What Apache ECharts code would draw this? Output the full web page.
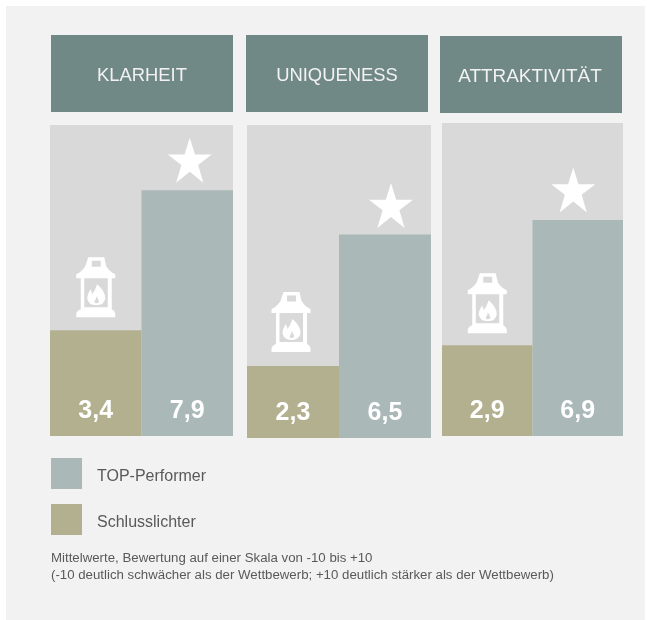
<!DOCTYPE html>
<html>
<head>
<meta charset="utf-8">
<style>html,body{margin:0;padding:0;background:#fff}#c{width:647px;height:620px}</style>
<script src="https://cdn.jsdelivr.net/npm/echarts@6/dist/echarts.min.js"></script>
</head>
<body>
<div id="c"></div>
<script>
const headers = ['KLARHEIT', 'UNIQUENESS', 'ATTRAKTIVITÄT'];
const categories = ['Schlusslichter', 'TOP-Performer'];
const lowValues = [3.4, 2.3, 2.9];
const topValues = [7.9, 6.5, 6.9];
const footnote = 'Mittelwerte, Bewertung auf einer Skala von -10 bis +10\n(-10 deutlich schwächer als der Wettbewerb; +10 deutlich stärker als der Wettbewerb)';

const gridBoxes = [
  {left: 50, top: 125, width: 183, height: 311},
  {left: 247, top: 125, width: 184, height: 313},
  {left: 442, top: 123, width: 181, height: 313}
];
const headerBoxes = [
  {x: 51, y: 35, width: 182, height: 77},
  {x: 246, y: 35, width: 182, height: 77},
  {x: 440, y: 36, width: 182, height: 77}
];
const headerFontSizes = [18.4, 18.4, 18.9];
const starOffsets = [[2.5, -30], [6, -29], [-4.5, -30]];
const lanternOffsets = [[0, -43], [-2, -44], [0, -42]];

const starPath = 'path://M22 0L27.2 16.8L44 16.8L30.4 27.2L35.6 45L22 34L8.4 45L13.6 27.2L0 16.8L16.8 16.8Z';
const lanternPath = 'path://M12 0L28 0L30 9Q33 14 39 17L39 21L35.5 21L35.5 52Q38 53 39 56L39 60L0 60L0 56Q1 53 4.5 52L4.5 21L0 21L0 17Q6 14 9 9Z'
  + 'M15.5 3.5L15.5 9.5L24.5 9.5L24.5 3.5Z'
  + 'M8 21L8 50L31.5 50L31.5 21Z'
  + 'M21 27Q29 34 29 41Q28 48 20 48Q12 48 11 41Q11 37 14.5 32L16 37Q19 33 21 27Z'
  + 'M20 39Q20 42 18.5 43.5Q17.5 46 20 46Q23 46 22.5 43.5Q22 42 20 39Z';

const grids = gridBoxes, xAxes = [], yAxes = [], series = [];
const colors = {low: '#b3b08f', top: '#aab9b8'};
headers.forEach((h, i) => {
  xAxes.push({type: 'category', gridIndex: i, data: categories, show: false, boundaryGap: true});
  yAxes.push({type: 'value', gridIndex: i, min: 0, max: 10, show: false});
  const label = {
    show: true, position: 'insideBottom', distance: 12,
    color: '#fff', fontFamily: 'Liberation Sans, Arial, sans-serif', fontWeight: 'bold', fontSize: 25,
    formatter: p => String(p.value).replace('.', ',')
  };
  series.push({
    name: 'Schlusslichter', type: 'bar', xAxisIndex: i, yAxisIndex: i,
    data: [lowValues[i], null], barWidth: '100%', barGap: '-100%',
    itemStyle: {color: colors.low}, label
  });
  series.push({
    name: 'TOP-Performer', type: 'bar', xAxisIndex: i, yAxisIndex: i,
    data: [null, topValues[i]], barWidth: '100%', barGap: '-100%',
    itemStyle: {color: colors.top}, label
  });
  series.push({
    type: 'scatter', xAxisIndex: i, yAxisIndex: i, silent: true, z: 5,
    data: [[1, topValues[i]]], symbol: starPath, symbolSize: [44, 45],
    symbolOffset: starOffsets[i], itemStyle: {color: '#fff', opacity: 1}
  });
  series.push({
    type: 'scatter', xAxisIndex: i, yAxisIndex: i, silent: true, z: 5,
    data: [[0, lowValues[i]]], symbol: lanternPath, symbolSize: [39, 60],
    symbolOffset: lanternOffsets[i], itemStyle: {color: '#fff', opacity: 1}
  });
});
grids.forEach(g => { g.show = true; g.backgroundColor = '#d9d9d9'; g.borderWidth = 0; g.containLabel = false; });

const graphics = [
  {type: 'rect', z: -10, shape: {x: 6, y: 6, width: 639, height: 614}, style: {fill: '#f2f2f2'}}
];
headers.forEach((h, i) => {
  const b = headerBoxes[i];
  graphics.push({type: 'rect', z: 1, shape: b, style: {fill: '#708886'}});
  graphics.push({type: 'text', z: 2, x: b.x + b.width / 2 + (i === 2 ? -1 : 0), y: b.y + b.height / 2 + 2.5,
    style: {text: h, fill: '#f2f2f2', font: headerFontSizes[i] + 'px "Liberation Sans", Arial, sans-serif', textAlign: 'center', textVerticalAlign: 'middle'}});
});
graphics.push({type: 'text', z: 2, x: 51, y: 550,
  style: {text: footnote, fill: '#595959', font: '13.25px "Liberation Sans", Arial, sans-serif', lineHeight: 17}});

const chart = echarts.init(document.getElementById('c'), null, {renderer: 'canvas'});
chart.setOption({
  animation: false,
  backgroundColor: '#fff',
  grid: grids, xAxis: xAxes, yAxis: yAxes, series,
  legend: {
    orient: 'vertical', left: 51, top: 458, padding: 0, itemWidth: 31, itemHeight: 31, itemGap: 15,
    data: [{name: 'TOP-Performer', icon: 'rect'}, {name: 'Schlusslichter', icon: 'rect'}],
    selectedMode: false,
    formatter: n => '{a|' + n + '}',
    textStyle: {
      rich: {a: {color: '#595959', fontSize: 16, fontFamily: 'Liberation Sans, Arial, sans-serif', padding: [6, 0, 0, 10]}}
    }
  },
  graphic: graphics
});
</script>
</body>
</html>
